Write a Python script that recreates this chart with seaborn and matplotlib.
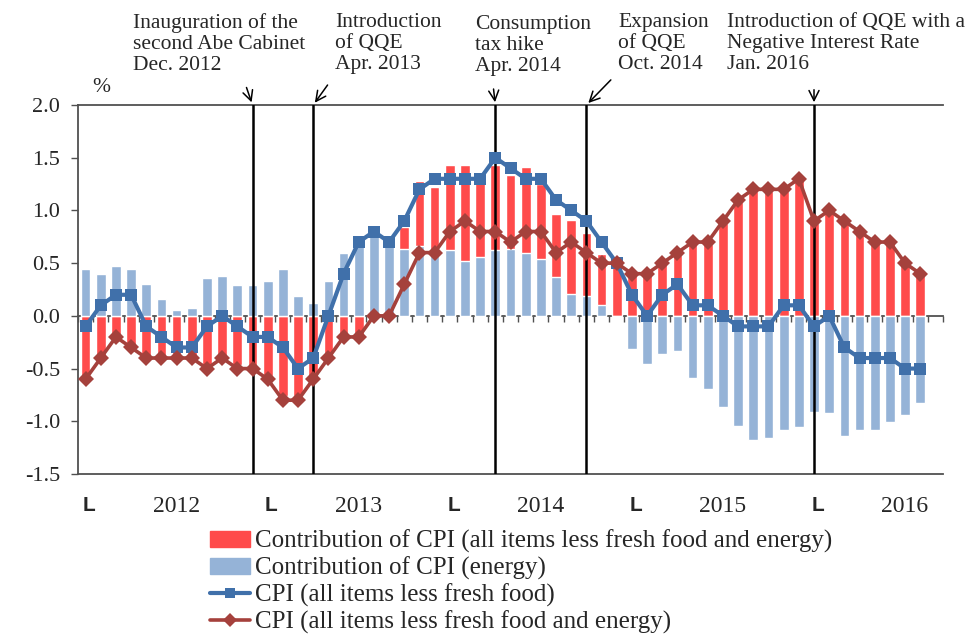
import numpy as np
import pandas as pd
import matplotlib
matplotlib.use("Agg")
import matplotlib.pyplot as plt
import seaborn as sns
from matplotlib.patches import Patch
from matplotlib.lines import Line2D

# monthly data, Jan 2012 - Aug 2016 (y/y % chg)
months = pd.date_range("2012-01-01", periods=56, freq="MS")

core_contrib = [-0.58, -0.38, -0.20, -0.29, -0.38, -0.38, -0.38, -0.38, -0.48, -0.38, -0.47, -0.48,
                -0.57, -0.76, -0.76, -0.57, -0.38, -0.19, -0.19, 0.00, 0.00, 0.21, 0.62, 0.64,
                0.81, 0.91, 0.76, 0.81, 0.71, 0.81, 0.71, 0.60, 0.70, 0.60, 0.49, 0.48,
                0.40, 0.40, 0.50, 0.58, 0.68, 0.68, 0.88, 1.08, 1.18, 1.18, 1.18, 1.29,
                0.88, 0.98, 0.88, 0.78, 0.69, 0.69, 0.49, 0.39]

energy_contrib = [0.44, 0.40, 0.47, 0.44, 0.30, 0.16, 0.06, 0.07, 0.36, 0.38, 0.29, 0.29,
                  0.33, 0.44, 0.19, 0.12, 0.33, 0.60, 0.68, 0.76, 0.70, 0.63, 0.66, 0.58,
                  0.62, 0.52, 0.56, 0.62, 0.63, 0.60, 0.54, 0.37, 0.21, 0.19, 0.10, 0.00,
                  -0.31, -0.46, -0.36, -0.33, -0.59, -0.69, -0.86, -1.04, -1.18, -1.16, -1.08, -1.05,
                  -0.91, -0.92, -1.14, -1.08, -1.08, -1.01, -0.94, -0.83]

cpi_less_fresh = [-0.1, 0.1, 0.2, 0.2, -0.1, -0.2, -0.3, -0.3, -0.1, 0.0, -0.1, -0.2,
                  -0.2, -0.3, -0.5, -0.4, 0.0, 0.4, 0.7, 0.8, 0.7, 0.9, 1.2, 1.3,
                  1.3, 1.3, 1.3, 1.5, 1.4, 1.3, 1.3, 1.1, 1.0, 0.9, 0.7, 0.5,
                  0.2, 0.0, 0.2, 0.3, 0.1, 0.1, 0.0, -0.1, -0.1, -0.1, 0.1, 0.1,
                  -0.1, 0.0, -0.3, -0.4, -0.4, -0.4, -0.5, -0.5]

cpi_less_fresh_energy = [-0.6, -0.4, -0.2, -0.3, -0.4, -0.4, -0.4, -0.4, -0.5, -0.4, -0.5, -0.5,
                         -0.6, -0.8, -0.8, -0.6, -0.4, -0.2, -0.2, 0.0, 0.0, 0.3, 0.6, 0.6,
                         0.8, 0.9, 0.8, 0.8, 0.7, 0.8, 0.8, 0.6, 0.7, 0.6, 0.5, 0.5,
                         0.4, 0.4, 0.5, 0.6, 0.7, 0.7, 0.9, 1.1, 1.2, 1.2, 1.2, 1.3,
                         0.9, 1.0, 0.9, 0.8, 0.7, 0.7, 0.5, 0.4]

event_months = ["2012-12", "2013-04", "2014-04", "2014-10", "2016-01"]
event_labels = ["Inauguration of the\nsecond Abe Cabinet\nDec. 2012",
                "Introduction\nof QQE\nApr. 2013",
                "Consumption\ntax hike\nApr. 2014",
                "Expansion\nof QQE\nOct. 2014",
                "Introduction of QQE with a\nNegative Interest Rate\nJan. 2016"]

legend_labels = ["Contribution of CPI (all items less fresh food and energy)",
                 "Contribution of CPI (energy)",
                 "CPI (all items less fresh food)",
                 "CPI (all items less fresh food and energy)"]

RED = "#FF4B4B"
LIGHTBLUE = "#95B3D7"
BLUE = "#4070AA"
DARKRED = "#A5413C"
AXCOL = "#505050"

sns.set_style("ticks")
plt.rcParams["font.family"] = ["Liberation Serif", "DejaVu Serif"]

fig = plt.figure(figsize=(9.71, 6.39), dpi=100)
ax = fig.add_axes([78 / 971, 1 - 474 / 639, 865 / 971, 369 / 639])

pos = np.arange(len(months))
core = np.array(core_contrib)
energy = np.array(energy_contrib)
# red sits on top of blue when both have the same sign
same_sign = np.sign(core) == np.sign(energy)
core_outer = np.where(same_sign, core + energy, core)

sns.barplot(x=pos, y=core_outer, color=RED, width=0.64, saturation=1, errorbar=None, ax=ax, zorder=2)
sns.barplot(x=pos, y=energy, color=LIGHTBLUE, width=0.64, saturation=1, errorbar=None, ax=ax, zorder=2)

# event lines
ev_idx = [int(np.where(months == pd.Timestamp(m))[0][0]) for m in event_months]
for i in ev_idx:
    ax.axvline(i, color="black", lw=1.8, zorder=3)

sns.lineplot(x=pos, y=cpi_less_fresh, color=BLUE, lw=3, marker="s", markersize=8,
             markeredgewidth=0, ax=ax, zorder=4)
sns.lineplot(x=pos, y=cpi_less_fresh_energy, color=DARKRED, lw=2.6, marker="D", markersize=8,
             markeredgewidth=0, ax=ax, zorder=5)

ax.set_xlim(-0.5, len(months) + 0.5)
ax.set_ylim(-1.5, 2.0)
yt = np.arange(-1.5, 2.01, 0.5)
ax.set_yticks(yt, [f"{v:.1f}" for v in yt])
ax.tick_params(axis="y", direction="out", length=5, width=1, color=AXCOL, pad=8, labelsize=16)

# x labels: "L" at each January, year in the middle
jan = [i for i, m in enumerate(months) if m.month == 1]
xt = [i + 0.25 for i in jan] + [i + 6 for i in jan]
xl = ["L"] * len(jan) + [str(months[i].year) for i in jan]
ax.set_xticks(xt, xl)
ax.tick_params(axis="x", length=0, pad=16, labelsize=17)
for lab in ax.get_xticklabels():
    if lab.get_text() == "L":
        lab.set_fontfamily("Liberation Sans")
        lab.set_fontweight("bold")
        lab.set_fontsize(15)
ax.set_xlabel("")
ax.set_ylabel("")

for s in ["left", "top", "bottom"]:
    ax.spines[s].set_color(AXCOL)
    ax.spines[s].set_linewidth(1.3)
ax.spines["right"].set_visible(False)

# zero line with month ticks
sec = ax.secondary_xaxis(1.5 / 3.5)
sec.set_xticks(np.arange(-0.5, len(months) + 0.6, 1), [])
sec.tick_params(direction="out", length=4, width=1, color=AXCOL)
sec.spines["bottom"].set_color(AXCOL)
sec.spines["bottom"].set_linewidth(1.3)

# annotations
text_pos = [(133, 13), (335, 13), (475, 15), (618, 13), (727, 13)]
arrow_off = [(-5, 14.5), (11.5, 16), (-1.5, 13.5), (19, 19.5), (0, 13)]
for i, lab, (tx, ty), off in zip(ev_idx, event_labels, text_pos, arrow_off):
    fig.text(tx / 971, 1 - ty / 639, lab, ha="left", va="top", fontsize=15.5, linespacing=1.14)
    ax.annotate("", xy=(i, 2.0), xytext=off, textcoords="offset points",
                arrowprops=dict(arrowstyle="->", color="black", lw=1.1, mutation_scale=18),
                annotation_clip=False)

fig.text(92 / 971, 1 - 92 / 639, "%", fontsize=15.5, ha="left", va="baseline")

handles = [Patch(color=RED), Patch(color=LIGHTBLUE),
           Line2D([], [], color=BLUE, lw=3, marker="s", markersize=7, markeredgewidth=0),
           Line2D([], [], color=DARKRED, lw=2.6, marker="D", markersize=7, markeredgewidth=0)]
fig.legend(handles, legend_labels, loc="upper left", bbox_to_anchor=(210 / 971, 1 - 530 / 639),
           frameon=False, fontsize=18, handlelength=1.6, handletextpad=0.2, labelspacing=0.14,
           borderpad=0, borderaxespad=0, handleheight=0.6)

fig.savefig("out.png", dpi=100)
